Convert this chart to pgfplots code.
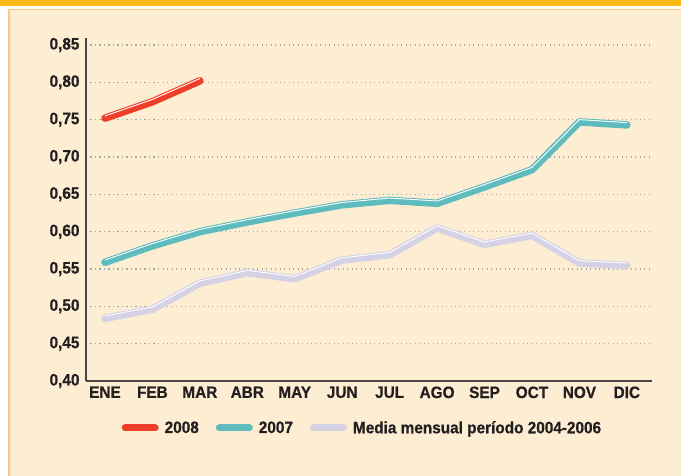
\documentclass[border=0pt]{standalone}
\usepackage{pgfplots}
\pgfplotsset{compat=1.18}
\usepackage{fontspec}
\setmainfont{Liberation Sans Bold}[FakeStretch=0.93, FakeBold=0.6]
\definecolor{cream}{HTML}{FDEED3}
\definecolor{topbar}{HTML}{FDB913}
\definecolor{frameor}{HTML}{FCC77E}
\definecolor{c2008}{HTML}{EE3E2A}
\definecolor{c2007}{HTML}{5FBCBE}
\definecolor{cmed}{HTML}{D4D2E4}
\definecolor{axgray}{HTML}{4A4646}
\definecolor{txt}{HTML}{231F20}
\begin{document}
\begin{tikzpicture}[x=1pt,y=1pt]
\useasboundingbox (0,0) rectangle (681,476);
\fill[white] (0,0) rectangle (681,476);
\fill[cream] (9,0) rectangle (681,467);
\draw[frameor, line width=1.5pt] (9,0) -- (9,466.5) -- (681,466.5);
\fill[topbar] (0,470) rectangle (681,476);
\begin{axis}[
  at={(86pt,95pt)}, anchor=south west,
  scale only axis, width=566pt, height=343pt,
  xmin=-0.4, xmax=11.53, ymin=0.40, ymax=0.8594,
  axis x line*=bottom, axis y line*=left,
  axis line style={axgray, line width=1.2pt, -},
  xtick={0,...,11},
  xticklabels={ENE,FEB,MAR,ABR,MAY,JUN,JUL,AGO,SEP,OCT,NOV,DIC},
  ytick={0.40,0.45,...,0.86},
  yticklabel={\pgfmathprintnumber[fixed,fixed zerofill,precision=2,use comma]{\tick}},
  /pgf/number format/assume math mode=true,
  major tick length=0pt,
  tick label style={font=\fontsize{16.5}{18}\selectfont, text=txt},
  yticklabel style={xshift=-3pt},
  xticklabel style={yshift=-2pt},
  ymajorgrids,
  grid style={gray!70, line width=1.3pt, dash pattern=on 1.3pt off 3.2pt},
  legend style={at={(0.491,-0.137)}, anchor=center, draw=none, fill=none,
    font=\fontsize{16.5}{18}\selectfont, text=txt,
    legend columns=3,
    /tikz/every odd column/.append style={column sep=1pt},
    /tikz/every even column/.append style={column sep=12pt},
    nodes={inner xsep=5pt}},
  legend cell align=left,
  legend image code/.code={\draw[#1, line width=7pt, line cap=round] (0pt,0pt) -- (30pt,0pt);},
  clip=false,
]
\addplot[c2008, line width=7.5pt, line cap=round, line join=round] coordinates {
(0,0.752) (1,0.774) (2,0.802)};
\addlegendentry{2008}
\addplot[c2007, line width=7.5pt, line cap=round, line join=round] coordinates {
(0,0.559) (1,0.581) (2,0.600) (3,0.613) (4,0.625) (5,0.636) (6,0.642) (7,0.638) (8,0.660) (9,0.683) (10,0.747) (11,0.743)};
\addlegendentry{2007}
\addplot[cmed, line width=7.5pt, line cap=round, line join=round] coordinates {
(0,0.484) (1,0.496) (2,0.531) (3,0.545) (4,0.537) (5,0.562) (6,0.569) (7,0.605) (8,0.583) (9,0.595) (10,0.558) (11,0.555)};
\addlegendentry{Media mensual período 2004-2006}
\addplot[white, line width=0.9pt, yshift=2.3pt, forget plot, line join=round] coordinates {
(0,0.752) (1,0.774) (2,0.802)};
\addplot[white, line width=0.9pt, yshift=2.3pt, forget plot, line join=round] coordinates {
(0,0.559) (1,0.581) (2,0.600) (3,0.613) (4,0.625) (5,0.636) (6,0.642) (7,0.638) (8,0.660) (9,0.683) (10,0.747) (11,0.743)};
\addplot[white, line width=0.9pt, yshift=2.3pt, forget plot, line join=round] coordinates {
(0,0.484) (1,0.496) (2,0.531) (3,0.545) (4,0.537) (5,0.562) (6,0.569) (7,0.605) (8,0.583) (9,0.595) (10,0.558) (11,0.555)};
\end{axis}
\end{tikzpicture}
\end{document}
